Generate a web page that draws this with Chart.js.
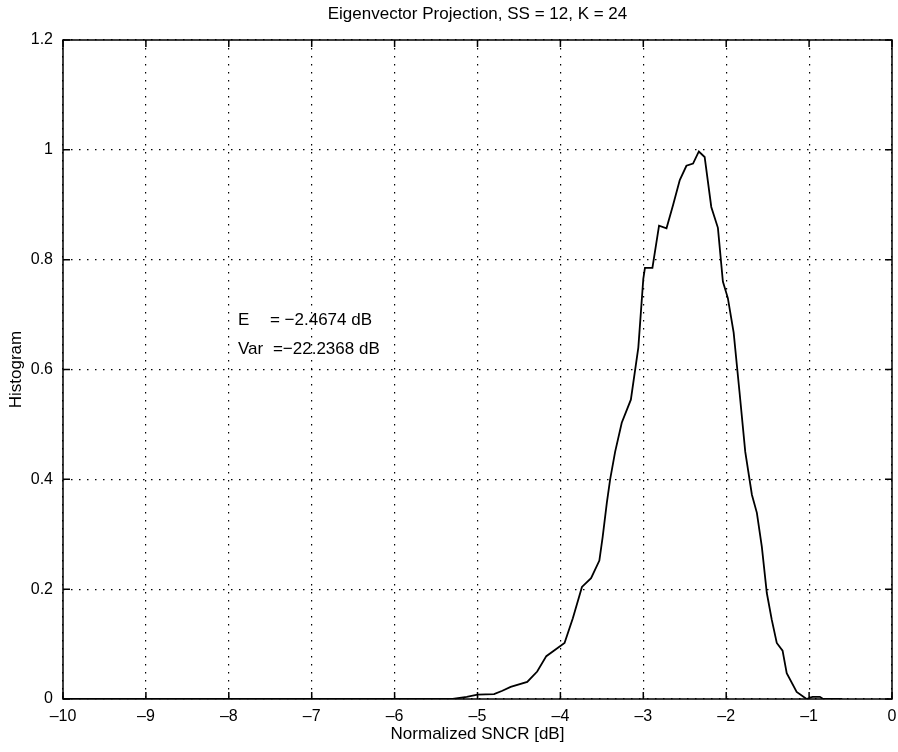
<!DOCTYPE html>
<html>
<head>
<meta charset="utf-8">
<script src="https://cdn.jsdelivr.net/npm/chart.js@4.4.1/dist/chart.umd.min.js"></script>
<style>
  html, body { margin: 0; padding: 0; background: #fff; }
  #wrap { width: 898px; height: 752px; }
</style>
</head>
<body>
<div id="wrap"><canvas id="hist-chart" width="898" height="752"></canvas></div>
<script>
// Histogram curve
const sncrDb = [-10, -5.6, -5.3, -5.13, -5.0, -4.8, -4.7, -4.6, -4.4, -4.28, -4.17, -3.95, -3.85,
                -3.74, -3.63, -3.53, -3.49, -3.44, -3.40, -3.34, -3.26, -3.15, -3.06, -3.0,
                -2.98, -2.89, -2.81, -2.72, -2.64, -2.56, -2.48, -2.40, -2.33, -2.26, -2.18,
                -2.10, -2.04, -1.98, -1.91, -1.84, -1.77, -1.69, -1.63, -1.57, -1.51, -1.45,
                -1.39, -1.32, -1.27, -1.15, -1.03, -0.96, -0.87, -0.83, -0.6];
const histValues = [0, 0, 0, 0.004, 0.008, 0.009, 0.015, 0.022, 0.031, 0.05, 0.078, 0.102, 0.147,
                    0.204, 0.22, 0.252, 0.295, 0.357, 0.40, 0.45, 0.503, 0.545, 0.64, 0.765,
                    0.785, 0.785, 0.862, 0.857, 0.90, 0.945, 0.971, 0.975, 0.997, 0.987, 0.896,
                    0.858, 0.76, 0.73, 0.667, 0.56, 0.45, 0.372, 0.339, 0.277, 0.193, 0.144,
                    0.102, 0.088, 0.047, 0.013, 0, 0.004, 0.004, 0, 0];

const xTicks = [-10, -9, -8, -7, -6, -5, -4, -3, -2, -1, 0];
const yTicks = [0, 0.2, 0.4, 0.6, 0.8, 1, 1.2];

const titleText = 'Eigenvector Projection, SS = 12, K = 24';
const xLabel = 'Normalized SNCR [dB]';
const yLabel = 'Histogram';
const noteLines = [['E', '= \u22122.4674 dB'], ['Var', '=\u221222.2368 dB']];

const FONT = 'Liberation Sans, Arial, Helvetica, sans-serif';

const points = sncrDb.map((x, i) => ({ x: x, y: histValues[i] }));

// Box, inward ticks, title, axis labels and text note
const matlabFrame = {
  id: 'matlabFrame',
  afterDraw(chart) {
    const ctx = chart.ctx;
    const a = chart.chartArea;
    const xs = chart.scales.x, ys = chart.scales.y;
    ctx.save();
    ctx.strokeStyle = '#000';
    ctx.lineWidth = 1.5;
    ctx.strokeRect(a.left, a.top, a.right - a.left, a.bottom - a.top);

    ctx.beginPath();
    xTicks.forEach(v => {
      const px = xs.getPixelForValue(v);
      ctx.moveTo(px, a.bottom); ctx.lineTo(px, a.bottom - 7);
      ctx.moveTo(px, a.top); ctx.lineTo(px, a.top + 7);
    });
    yTicks.forEach(v => {
      const py = ys.getPixelForValue(v);
      ctx.moveTo(a.left, py); ctx.lineTo(a.left + 7, py);
      ctx.moveTo(a.right, py); ctx.lineTo(a.right - 7, py);
    });
    ctx.stroke();

    ctx.fillStyle = '#000';
    ctx.font = '17px ' + FONT;
    ctx.textAlign = 'center';
    ctx.textBaseline = 'middle';
    ctx.fillText(titleText, (a.left + a.right) / 2, 14);
    ctx.fillText(xLabel, (a.left + a.right) / 2, 734);

    ctx.save();
    ctx.translate(16, (a.top + a.bottom) / 2);
    ctx.rotate(-Math.PI / 2);
    ctx.fillText(yLabel, 0, 0);
    ctx.restore();

    ctx.textAlign = 'left';
    const noteX = xs.getPixelForValue(-7.89);
    noteLines.forEach((ln, i) => {
      const py = ys.getPixelForValue(0.69) + i * 29;
      ctx.fillText(ln[0], noteX, py);
      ctx.fillText(ln[1], noteX + (i === 0 ? 32 : 35), py);
    });
    ctx.restore();
  }
};

const ctx = document.getElementById('hist-chart').getContext('2d');
new Chart(ctx, {
  type: 'scatter',
  data: {
    datasets: [{
      data: points,
      showLine: true,
      borderColor: '#000',
      borderWidth: 1.8,
      pointRadius: 0,
      tension: 0
    }]
  },
  options: {
    responsive: false,
    animation: false,
    devicePixelRatio: 1,
    layout: { padding: { top: 40, right: 6, left: 0, bottom: 0 } },
    scales: {
      x: {
        type: 'linear',
        min: -10,
        max: 0,
        afterFit: s => { s.height = 53; s.paddingLeft = 0; s.paddingRight = 0; },
        afterBuildTicks: s => { s.ticks = xTicks.map(v => ({ value: v })); },
        grid: { color: '#000', lineWidth: 1.2, drawTicks: false },
        border: { display: false, dash: [1.5, 6.5] },
        ticks: {
          padding: 8,
          color: '#000',
          font: { family: FONT, size: 16 },
          callback: v => String(v).replace('-', '\u2013')
        }
      },
      y: {
        min: 0,
        max: 1.2,
        afterFit: s => { s.width = 63; s.paddingTop = 0; s.paddingBottom = 0; },
        afterBuildTicks: s => { s.ticks = yTicks.map(v => ({ value: v })); },
        grid: { color: '#000', lineWidth: 1.2, drawTicks: false },
        border: { display: false, dash: [1.5, 6.5] },
        ticks: {
          padding: 10,
          color: '#000',
          font: { family: FONT, size: 16 },
          callback: v => String(v)
        }
      }
    },
    plugins: {
      legend: { display: false },
      tooltip: { enabled: false }
    }
  },
  plugins: [matlabFrame]
});
</script>
</body>
</html>
